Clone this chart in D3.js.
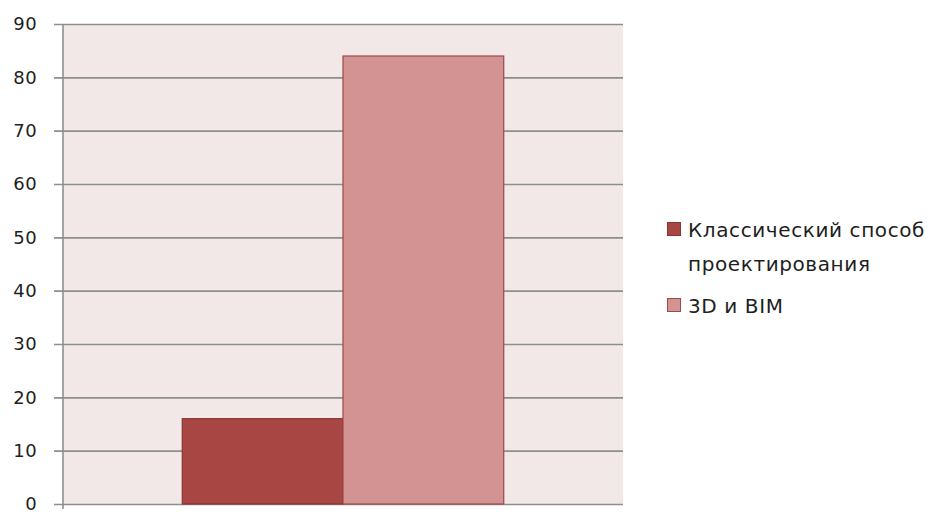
<!DOCTYPE html>
<html>
<head>
<meta charset="utf-8">
<script src="https://cdn.jsdelivr.net/npm/d3@7/dist/d3.min.js"></script>
<style>
  html, body { margin: 0; padding: 0; background: #ffffff; }
  svg { display: block; font-family: "DejaVu Sans", "Open Sans", sans-serif; }
</style>
</head>
<body>
<svg id="chart" width="931" height="512"></svg>
<script>
// Share of design approaches (single category, two series)
const categories = ["Способ проектирования"];
const seriesNames = ["Классический способ проектирования", "3D и BIM"];
const seriesValues = [16, 84];
const yTicks = [0, 10, 20, 30, 40, 50, 60, 70, 80, 90];

const fills = ["#A84644", "#D39392"];
const strokes = ["#8A3432", "#9B4A48"];

const svg = d3.select("#chart");
const plot = { left: 63, right: 623, top: 24, bottom: 504 };

const y = d3.scaleLinear().domain([0, 90]).range([plot.bottom, plot.top]);

const x0 = d3.scaleBand()
  .domain(categories)
  .range([plot.left, plot.right])
  .paddingInner(0)
  .paddingOuter(0.371);

const x1 = d3.scaleBand()
  .domain(seriesNames)
  .range([0, x0.bandwidth()])
  .padding(0);

// plot background
svg.append("rect")
  .attr("x", plot.left).attr("y", plot.top)
  .attr("width", plot.right - plot.left).attr("height", plot.bottom - plot.top)
  .attr("fill", "#F2E8E8");

// horizontal gridlines with left tick marks
const yAxis = d3.axisLeft(y)
  .tickValues(yTicks)
  .tickSize(plot.right - plot.left + 9)
  .tickPadding(17);

const gy = svg.append("g")
  .attr("transform", `translate(${plot.right},0)`)
  .call(yAxis)
  .attr("font-family", null)
  .attr("font-size", null);
gy.select(".domain").remove();
gy.selectAll(".tick line")
  .attr("stroke", "#8E8E8E")
  .attr("stroke-width", 1.6);
gy.selectAll(".tick text")
  .attr("fill", "#1e1e1e")
  .style("font-size", "18px")
  .style("letter-spacing", "0.4px");

// bars
svg.append("g")
  .selectAll("g")
  .data(categories)
  .join("g")
  .attr("transform", d => `translate(${x0(d)},0)`)
  .selectAll("rect")
  .data(() => seriesNames.map((s, i) => ({ s, v: seriesValues[i], i })))
  .join("rect")
  .attr("x", d => x1(d.s))
  .attr("y", d => y(d.v))
  .attr("width", x1.bandwidth())
  .attr("height", d => y(0) - y(d.v))
  .attr("fill", d => fills[d.i])
  .attr("stroke", d => strokes[d.i])
  .attr("stroke-width", 1.2);

// vertical axis line
svg.append("line")
  .attr("x1", plot.left).attr("x2", plot.left)
  .attr("y1", plot.top).attr("y2", plot.bottom + 5)
  .attr("stroke", "#8E8E8E")
  .attr("stroke-width", 1.6);

// legend
const legend = svg.append("g").attr("transform", "translate(667,0)");
const legendItems = [
  { lines: ["Классический способ", "проектирования"], y: 222, i: 0 },
  { lines: ["3D и BIM"], y: 298, i: 1 }
];
legendItems.forEach(item => {
  legend.append("rect")
    .attr("x", 0.5).attr("y", item.y + 0.5)
    .attr("width", 13).attr("height", 13)
    .attr("fill", fills[item.i])
    .attr("stroke", strokes[item.i])
    .attr("stroke-width", 1);
  const t = legend.append("text")
    .attr("x", 21).attr("y", item.y + 14.5)
    .style("font-size", "20px")
    .style("letter-spacing", "0.6px")
    .attr("fill", "#1e1e1e");
  item.lines.forEach((ln, k) => {
    t.append("tspan").attr("x", 21).attr("dy", k === 0 ? 0 : 34).text(ln);
  });
});
</script>
</body>
</html>
